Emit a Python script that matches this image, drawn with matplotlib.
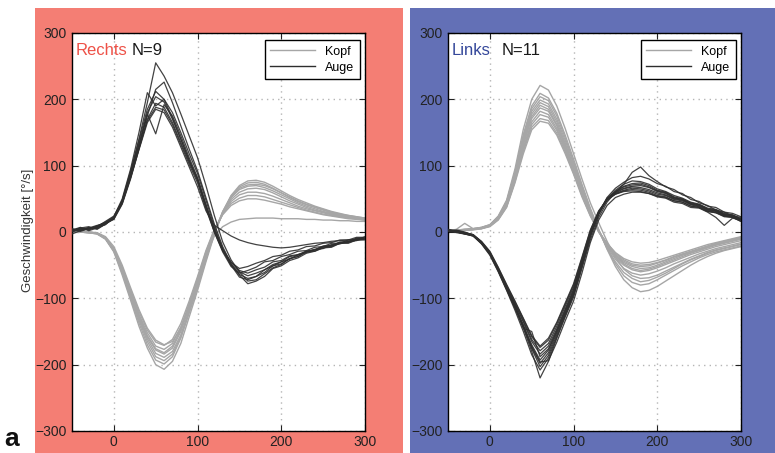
import matplotlib
matplotlib.use("Agg")
import matplotlib.pyplot as plt
from matplotlib.patches import Rectangle
from matplotlib.lines import Line2D

plt.rcParams['font.family'] = ['Liberation Sans', 'DejaVu Sans']

# time axis (ms)
time_ms = [-50, -40, -30, -20, -10, 0, 10, 20, 30, 40, 50, 60, 70, 80, 90, 100, 110, 120,
           130, 140, 150, 160, 170, 180, 190, 200, 210, 220, 230, 240, 250, 260, 270, 280, 290, 300]

# ---------------- Rechts (N=9) ----------------
rechts_kopf = [
    [0,0,-1,-3,-11,-30,-65,-103,-142,-175,-200,-207,-195,-168,-128,-88,-45,-4,30,55,70,77,78,75,69,62,55,49,44,39,35,31,28,25,23,21],
    [0,1,0,-2,-10,-29,-62,-100,-137,-170,-193,-199,-188,-160,-122,-84,-42,-2,31,54,68,74,75,72,66,59,52,46,41,37,33,29,26,24,22,20],
    [0,0,-1,-3,-10,-28,-60,-97,-133,-165,-188,-194,-184,-158,-120,-82,-40,0,30,52,64,69,70,67,62,56,50,44,39,35,31,28,26,24,22,20],
    [0,0,0,-2,-9,-27,-58,-95,-130,-161,-183,-189,-180,-155,-118,-80,-38,-1,28,49,60,65,66,64,59,53,47,42,37,33,30,27,25,23,21,19],
    [0,0,-1,-2,-9,-26,-56,-92,-126,-156,-176,-182,-172,-147,-110,-72,-32,2,28,46,56,60,60,58,54,49,44,39,35,32,29,26,24,22,20,18],
    [0,0,0,-2,-9,-26,-55,-90,-124,-152,-172,-177,-168,-143,-108,-70,-30,3,27,43,51,55,55,53,49,45,41,37,33,30,27,25,23,21,20,18],
    [0,0,-1,-2,-8,-25,-53,-87,-120,-148,-166,-171,-162,-138,-104,-67,-28,4,26,40,47,50,50,48,45,42,38,35,32,29,26,24,22,20,19,18],
    [0,0,0,-1,-7,-22,-50,-84,-117,-145,-163,-170,-165,-145,-113,-78,-38,-2,28,52,66,71,72,70,65,59,53,47,42,38,34,30,27,25,23,21],
    [0,0,-1,-2,-9,-27,-57,-93,-128,-158,-178,-184,-175,-150,-114,-76,-36,-6,8,15,19,20,21,21,21,20,20,20,19,19,18,18,17,17,16,16],
]
rechts_auge = [
    [2,6,3,8,13,20,48,92,140,195,255,235,210,178,145,112,70,25,-15,-42,-60,-74,-72,-63,-54,-49,-40,-37,-29,-27,-22,-21,-16,-15,-10,-9],
    [4,3,7,5,12,22,46,88,132,175,215,226,195,160,125,92,52,12,-22,-48,-65,-78,-74,-67,-55,-51,-43,-39,-32,-29,-24,-23,-17,-17,-12,-11],
    [1,5,4,9,15,23,50,95,150,210,190,200,180,150,118,88,48,8,-25,-50,-68,-72,-67,-57,-51,-45,-41,-34,-31,-26,-25,-19,-18,-14,-13,-9],
    [3,7,2,6,14,21,44,84,128,178,148,192,175,145,112,82,42,4,-26,-45,-58,-62,-57,-53,-45,-43,-36,-34,-29,-27,-21,-21,-15,-15,-9,-9],
    [0,4,6,10,13,19,42,80,125,170,194,188,165,135,105,78,38,2,-28,-48,-60,-66,-62,-57,-49,-45,-37,-35,-29,-27,-22,-20,-16,-15,-11,-10],
    [5,2,5,8,16,24,47,86,133,180,204,196,170,140,108,80,40,3,-27,-50,-64,-70,-67,-61,-51,-48,-40,-37,-30,-29,-23,-22,-17,-16,-12,-12],
    [2,6,8,4,12,20,43,82,126,168,188,184,162,132,102,74,35,0,-30,-52,-62,-58,-53,-45,-43,-37,-34,-29,-28,-23,-22,-17,-17,-12,-12,-7],
    [-3,2,6,7,11,22,47,90,138,185,212,200,172,140,108,78,38,0,-28,-46,-55,-52,-47,-43,-37,-35,-29,-27,-22,-21,-17,-16,-12,-12,-8,-8],
    [4,1,5,9,14,21,45,82,124,165,185,180,158,128,98,68,32,10,2,-6,-12,-16,-19,-21,-23,-24,-23,-21,-19,-17,-16,-14,-13,-12,-11,-10],
]

# ---------------- Links (N=11) ----------------
links_kopf = [
    [2,3,4,5,7,11,24,48,95,155,200,221,214,190,156,118,80,44,14,-14,-38,-56,-66,-70,-69,-65,-59,-53,-47,-41,-36,-31,-27,-24,-21,-18],
    [1,2,3,4,6,10,22,45,90,147,190,209,202,179,146,110,72,36,4,-26,-52,-72,-84,-90,-88,-82,-74,-66,-58,-50,-43,-37,-32,-28,-25,-22],
    [2,3,3,5,7,11,23,46,90,145,186,204,198,175,142,106,69,34,3,-25,-48,-66,-76,-80,-78,-72,-65,-58,-51,-45,-39,-34,-30,-27,-24,-21],
    [1,2,4,4,6,10,22,44,88,141,182,199,193,170,138,103,66,32,2,-24,-45,-61,-70,-75,-73,-68,-62,-55,-48,-42,-37,-32,-28,-25,-22,-19],
    [2,3,4,5,6,10,21,43,86,138,178,195,189,166,134,99,63,30,2,-22,-41,-55,-62,-65,-63,-59,-54,-48,-43,-38,-33,-29,-25,-22,-19,-16],
    [2,4,13,5,6,10,21,42,84,135,174,191,185,162,131,97,61,29,2,-20,-38,-50,-57,-60,-58,-54,-49,-44,-39,-34,-30,-26,-22,-19,-16,-13],
    [1,2,3,4,6,9,20,41,82,132,171,187,182,160,129,95,60,28,2,-19,-36,-48,-55,-58,-56,-52,-47,-42,-37,-32,-28,-24,-20,-17,-14,-11],
    [2,2,3,4,5,9,20,40,80,128,166,182,177,156,126,93,58,27,1,-19,-35,-46,-52,-55,-54,-50,-45,-40,-35,-31,-27,-23,-19,-16,-13,-10],
    [1,2,3,4,5,9,19,39,78,125,162,177,173,153,124,91,56,26,0,-19,-34,-44,-50,-52,-51,-47,-43,-38,-34,-30,-26,-22,-18,-15,-12,-9],
    [2,3,3,4,6,9,19,38,76,122,158,171,168,149,121,89,55,25,1,-17,-32,-42,-48,-50,-49,-46,-42,-37,-33,-29,-25,-21,-17,-14,-11,-8],
    [1,2,3,3,5,8,18,37,74,118,154,167,164,146,118,87,53,24,0,-17,-31,-40,-45,-47,-46,-43,-39,-35,-31,-27,-23,-19,-16,-13,-10,-7],
]
links_auge = [
    [3,1,-2,-5,-16,-32,-58,-86,-115,-145,-180,-220,-195,-160,-128,-98,-55,-12,22,45,60,72,90,98,85,76,68,64,56,52,44,40,33,30,24,22],
    [2,0,-3,-6,-18,-35,-60,-88,-118,-150,-185,-208,-190,-158,-126,-95,-52,-8,28,52,66,75,82,84,80,73,69,61,58,49,46,39,37,30,28,23],
    [4,2,-1,-4,-15,-31,-57,-84,-112,-142,-176,-203,-186,-155,-124,-94,-50,-6,26,50,63,72,77,76,72,65,61,55,51,45,42,36,34,28,26,20],
    [1,3,0,-5,-17,-34,-59,-87,-114,-143,-174,-198,-182,-152,-122,-92,-49,-5,27,49,61,69,73,74,70,63,60,53,50,44,41,35,33,27,25,19],
    [2,-1,-3,-6,-16,-33,-58,-85,-112,-140,-170,-193,-178,-150,-120,-90,-47,-4,29,50,61,68,71,72,68,62,59,52,49,43,41,34,32,26,25,19],
    [3,0,-2,-5,-17,-32,-56,-84,-110,-145,-150,-188,-176,-148,-118,-88,-45,-2,30,51,60,66,69,70,67,61,58,51,49,42,40,34,32,26,24,18],
    [1,2,-1,-4,-15,-31,-55,-82,-108,-136,-165,-184,-172,-146,-116,-86,-44,-2,28,48,59,65,68,67,64,59,56,50,48,42,39,33,31,25,23,17],
    [2,0,-2,-6,-17,-33,-57,-83,-108,-134,-162,-179,-168,-142,-112,-83,-42,0,30,49,58,63,66,65,62,57,55,49,47,41,38,32,30,24,22,16],
    [3,1,-3,-5,-15,-30,-54,-80,-105,-131,-158,-174,-163,-138,-109,-80,-40,2,31,48,57,62,64,63,60,55,53,47,45,39,37,31,29,24,23,17],
    [1,2,-1,-4,-14,-29,-53,-79,-104,-130,-156,-172,-160,-136,-107,-78,-38,3,32,49,57,61,62,61,58,53,51,45,43,37,36,30,22,10,21,18],
    [2,0,-2,-5,-16,-32,-57,-85,-113,-142,-172,-196,-194,-166,-134,-104,-62,-16,18,40,52,57,60,60,58,54,52,47,45,39,37,31,29,23,22,16],
]

x_ticks = [0, 100, 200, 300]
y_ticks = [-300, -200, -100, 0, 100, 200, 300]
legend_labels = ['Kopf', 'Auge']

RED_BG = '#F47E74'
BLUE_BG = '#6370B6'
KOPF_C = '#a6a6a6'
AUGE_C = '#2e2e2e'

W, H = 775, 453
fig = plt.figure(figsize=(W / 100, H / 100), dpi=100)
fig.patches.append(Rectangle((35 / W, 0), 368 / W, 445 / H, transform=fig.transFigure,
                             facecolor=RED_BG, edgecolor='none', zorder=-10))
fig.patches.append(Rectangle((410 / W, 0), 365 / W, 445 / H, transform=fig.transFigure,
                             facecolor=BLUE_BG, edgecolor='none', zorder=-10))


def make_axes(left_px, kopf, auge, side, side_color, n_text, n_x):
    ax = fig.add_axes([left_px / W, 22 / H, 293 / W, 398 / H])
    ax.set_facecolor('white')
    for tr in kopf:
        ax.plot(time_ms, tr, color=KOPF_C, lw=1.0, zorder=2)
    for tr in auge:
        ax.plot(time_ms, tr, color=AUGE_C, lw=0.9, zorder=3, alpha=0.9)
    ax.set_xlim(-50, 300)
    ax.set_ylim(-300, 300)
    ax.set_xticks(x_ticks)
    ax.set_yticks(y_ticks)
    ax.grid(True, color='#b5b5b5', linestyle=(0, (1, 3)), lw=1.0)
    ax.tick_params(direction='in', top=True, right=True, length=4, width=0.8,
                   labelsize=10, colors='#222222', pad=4)
    ax.tick_params(axis='x', pad=3)
    for s in ax.spines.values():
        s.set_linewidth(1.0)
        s.set_color('black')
    ax.text(0.012, 0.955, side, transform=ax.transAxes, color=side_color,
            fontsize=12, ha='left', va='center', zorder=5)
    ax.text(n_x, 0.955, n_text, transform=ax.transAxes, color='#1a1a1a',
            fontsize=12, ha='left', va='center', zorder=5)
    handles = [Line2D([], [], color=KOPF_C, lw=1.0), Line2D([], [], color=AUGE_C, lw=1.0)]
    leg = ax.legend(handles, legend_labels, loc='upper right', bbox_to_anchor=(0.983, 0.982),
                    borderaxespad=0, fancybox=False, framealpha=1, edgecolor='black',
                    fontsize=9, handlelength=3.6, handletextpad=0.8, borderpad=0.45,
                    labelspacing=0.3)
    leg.get_frame().set_linewidth(1.0)
    leg.set_zorder(6)
    return ax


make_axes(72, rechts_kopf, rechts_auge, 'Rechts', '#EE5147', 'N=9', 0.205)
make_axes(448, links_kopf, links_auge, 'Links', '#34479A', 'N=11', 0.184)

fig.text(28 / W, 1 - 230 / H, 'Geschwindigkeit [°/s]', rotation=90, ha='center', va='center',
         fontsize=9.5, color='#333333')
fig.text(4 / W, 1 - 446 / H, 'a', fontsize=19, fontweight='bold', ha='left', va='baseline',
         color='#111111')

fig.savefig('out.png', dpi=100)
